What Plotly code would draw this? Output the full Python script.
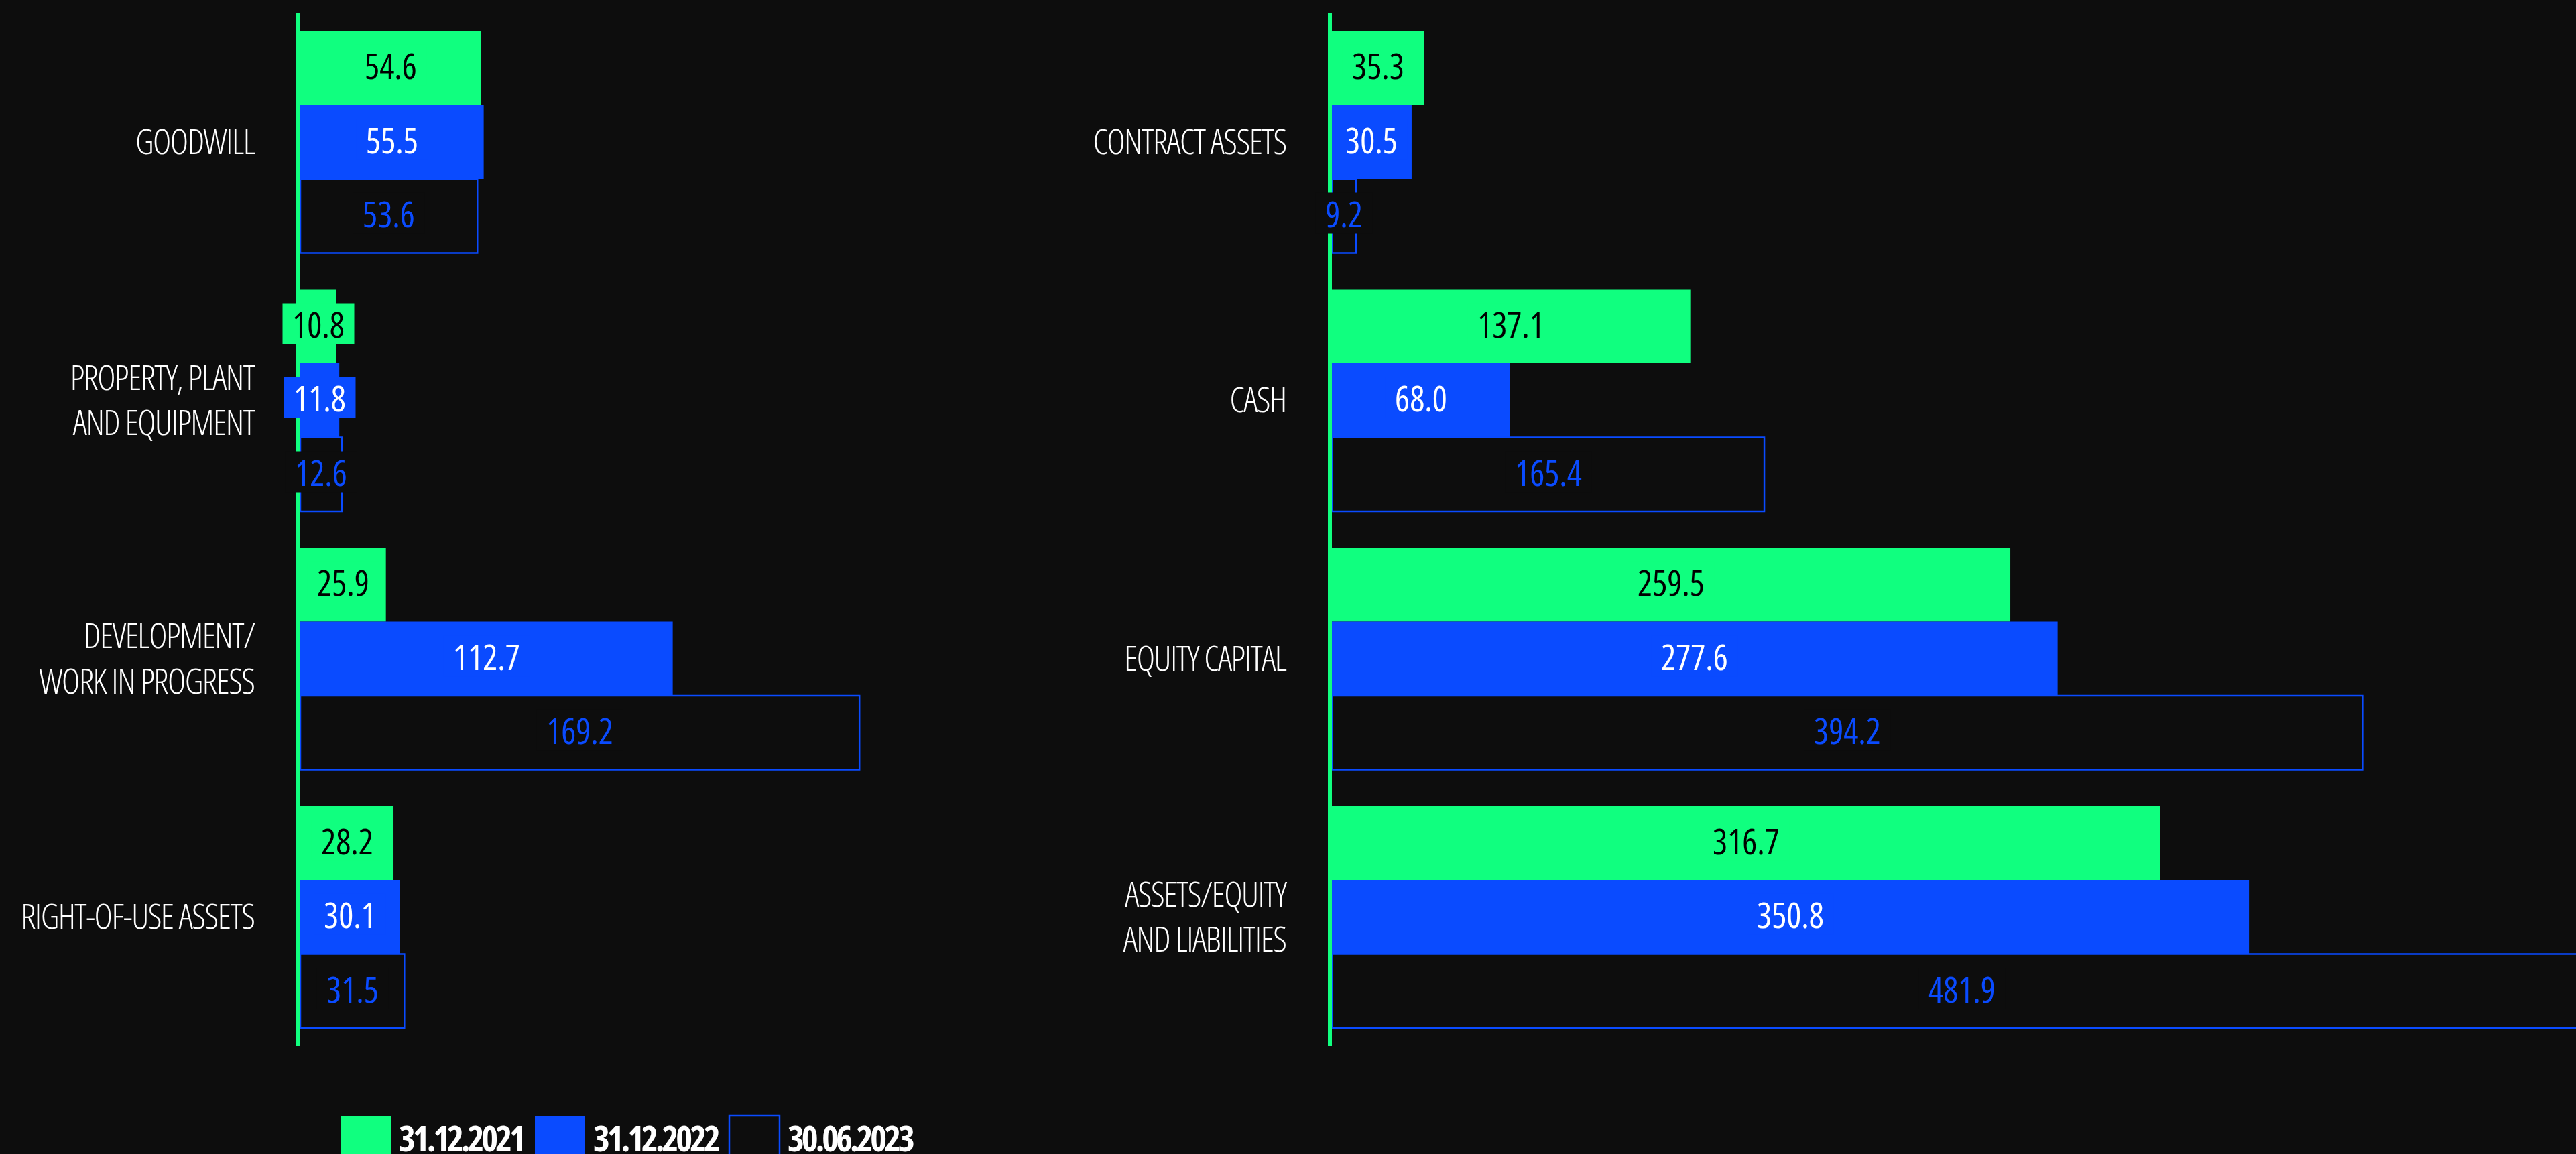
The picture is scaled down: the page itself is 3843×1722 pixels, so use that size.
import plotly.graph_objects as go

# ---------------- data ----------------
series_names = ["31.12.2021", "31.12.2022", "30.06.2023"]

left_categories = ["GOODWILL", "PROPERTY, PLANT<br>AND EQUIPMENT",
                   "DEVELOPMENT/<br>WORK IN PROGRESS", "RIGHT-OF-USE ASSETS"]
left_2021 = [54.6, 10.8, 25.9, 28.2]
left_2022 = [55.5, 11.8, 112.7, 30.1]
left_2023 = [53.6, 12.6, 169.2, 31.5]

right_categories = ["CONTRACT ASSETS", "CASH", "EQUITY CAPITAL",
                    "ASSETS/EQUITY<br>AND LIABILITIES"]
right_2021 = [35.3, 137.1, 259.5, 316.7]
right_2022 = [30.5, 68.0, 277.6, 350.8]
right_2023 = [9.2, 165.4, 394.2, 481.9]

# ---------------- style ----------------
W, H = 3843, 1722
BG = "#0d0d0d"
GREEN = "#10ff7f"
BLUE = "#0a4bff"
WHITE = "#ffffff"
FONT = "Open Sans, Roboto Condensed, sans-serif"
FS = 52


def cond(txt, stretch="75%", spacing="-2px"):
    """wrap text (line by line) in a condensed span"""
    parts = txt.split("<br>")
    return "<br>".join(
        f"<span style='font-stretch:{stretch};letter-spacing:{spacing}'>{p}</span>" for p in parts)


bar_w = 0.2866          # thickness of one bar in category units
offsets = [-bar_w, 0.0, bar_w]
fills = [GREEN, BLUE, "rgba(0,0,0,0)"]
line_cols = [GREEN, BLUE, BLUE]
line_ws = [0, 0, 2.5]
text_cols = ["#000000", WHITE, BLUE]
box_cols = [GREEN, BLUE, BG]

fig = go.Figure()
annotations = []

panels = [
    ("x", "y", left_categories, [left_2021, left_2022, left_2023]),
    ("x2", "y2", right_categories, [right_2021, right_2022, right_2023]),
]

for xa, ya, cats, values in panels:
    for s, vals in enumerate(values):
        ypos = [i + offsets[s] for i in range(len(cats))]
        fig.add_trace(go.Bar(
            x=vals, y=ypos, orientation="h", width=bar_w,
            name=series_names[s], showlegend=False,
            marker=dict(color=fills[s], line=dict(color=line_cols[s], width=line_ws[s])),
            xaxis=xa, yaxis=ya, hoverinfo="skip",
        ))
        for yv, v in zip(ypos, vals):
            label = f"{v:.1f}"
            annotations.append(dict(
                x=v / 2, y=yv, xref=xa, yref=ya,
                text=cond(label, "86%", "0px"),
                showarrow=False, xanchor="center", yanchor="middle",
                font=dict(family=FONT, size=FS, color=text_cols[s], weight=500),
                bgcolor=box_cols[s], borderpad=0, yshift=4,
                width=22 * len(label) + 18, height=60,
            ))

# manual legend
leg_x = [508, 798, 1088]
for s, name in enumerate(series_names):
    x0 = leg_x[s] / W
    fig.add_shape(type="rect", xref="paper", yref="paper",
                  x0=x0, x1=x0 + 75 / W, y0=-0.03, y1=(H - 1665) / H,
                  fillcolor=fills[s] if s < 2 else BG,
                  line=dict(color=BLUE if s == 2 else fills[s], width=2.5 if s == 2 else 0))
    annotations.append(dict(
        x=x0 + 85 / W, y=(H - 1697) / H, xref="paper", yref="paper",
        text=cond(name, "75%", "-4px"), showarrow=False, xanchor="left", yanchor="middle",
        font=dict(family=FONT, size=53, color=WHITE, weight=700),
    ))

ydom = [(H - 1561) / H, (H - 19) / H]
yaxis_common = dict(
    range=[3.5, -0.5], tickmode="array", tickvals=[0, 1, 2, 3],
    showline=True, linecolor=GREEN, linewidth=6, showgrid=False, zeroline=False,
    ticks="", ticklabelstandoff=52, domain=ydom, automargin=False,
    tickfont=dict(family=FONT, size=FS, color=WHITE, weight=300),
)
xaxis_common = dict(showline=False, showgrid=False, zeroline=False,
                    showticklabels=False, ticks="", automargin=False)

fig.update_layout(
    width=W, height=H,
    paper_bgcolor=BG, plot_bgcolor=BG,
    margin=dict(l=0, r=0, t=0, b=0, autoexpand=False),
    barmode="overlay",
    showlegend=False,
    xaxis=dict(domain=[448 / W, 0.49], range=[0, 1435 / 4.93], anchor="y", **xaxis_common),
    yaxis=dict(anchor="x", ticktext=[cond(c, "75%", "-1.5px") for c in left_categories], **yaxis_common),
    xaxis2=dict(domain=[1987 / W, 1.0], range=[0, 1856 / 3.9], anchor="y2", **xaxis_common),
    yaxis2=dict(anchor="x2", ticktext=[cond(c, "75%", "-1.5px") for c in right_categories], **yaxis_common),
    annotations=annotations,
)

fig.write_html(
    "out.html",
    config={"displayModeBar": False},
    post_script="document.body.style.margin='0';document.body.style.backgroundColor='#0d0d0d';",
)
